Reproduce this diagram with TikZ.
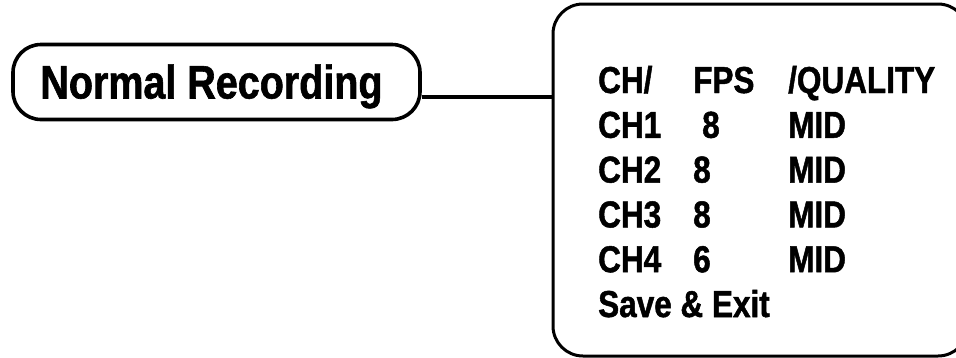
\documentclass[tikz,border=0pt]{standalone}
\usepackage{fontspec}
\setmainfont{Liberation Sans}[FakeStretch=0.84, BoldFeatures={FakeBold=1.3}]
\begin{document}
\begin{tikzpicture}[x=1pt,y=-1pt,
  titlebox/.style={draw, line width=3.6pt, rounded corners=28pt, minimum width=407pt, minimum height=75pt, inner sep=0pt, text height=33pt, text depth=0pt, font=\fontsize{47}{50}\selectfont\bfseries},
  menubox/.style={draw, line width=3pt, rounded corners=30pt, minimum width=415pt, minimum height=352pt, inner sep=0pt},
  item/.style={anchor=base west, inner sep=0pt, font=\fontsize{37.5}{40}\selectfont\bfseries},
  wire/.style={line width=3.6pt}]
\useasboundingbox (0,0) rectangle (956,357);
\clip (0,0) rectangle (956,357);
\node[titlebox] (rec) at (216.5,82) {\hspace*{-10pt}Normal Recording};
\node[menubox] (menu) at (760.5,180) {};
\coordinate (p) at ([yshift=-15pt]rec.east);
\draw[wire] (p) -- (menu.west |- p);
% rows
\node[item] (h1) at (598,93) {CH/};
\node[item] (h2) at (693,93) {FPS};
\node[item] (h3) at (788,93) {/QUALITY};
\node[item] (a1) at (598,137.8) {CH1};
\node[item] (a2) at (702,137.8) {8};
\node[item] (a3) at (788,137.8) {MID};
\node[item] (b1) at (598,182.6) {CH2};
\node[item] (b2) at (693,182.6) {8};
\node[item] (b3) at (788,182.6) {MID};
\node[item] (c1) at (598,227.4) {CH3};
\node[item] (c2) at (693,227.4) {8};
\node[item] (c3) at (788,227.4) {MID};
\node[item] (d1) at (598,272.2) {CH4};
\node[item] (d2) at (693,272.2) {6};
\node[item] (d3) at (788,272.2) {MID};
\node[item] (se) at (598,317) {Save \& Exit};
\end{tikzpicture}
\end{document}
